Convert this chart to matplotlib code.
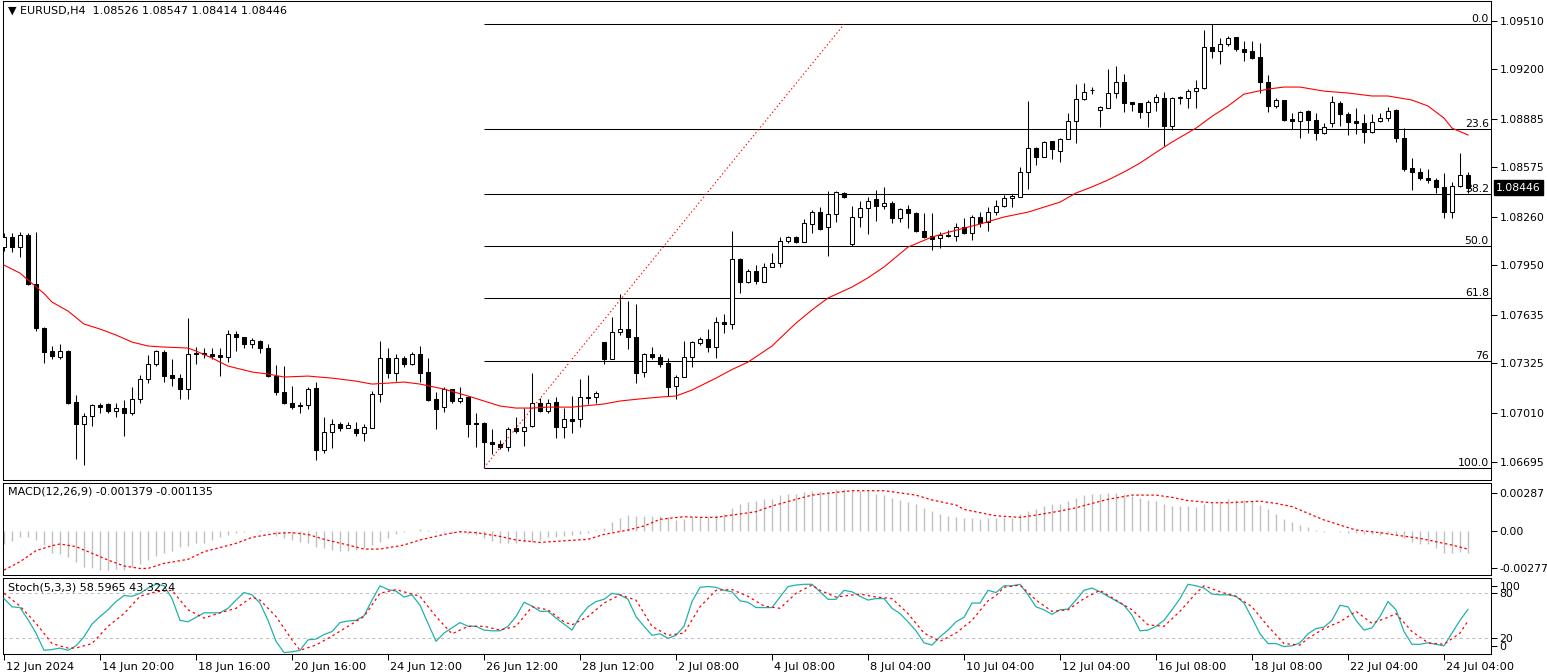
import numpy as np
import matplotlib
matplotlib.use('Agg')
import matplotlib.pyplot as plt
import matplotlib.transforms as mtransforms

plt.rcParams['font.family'] = ['DejaVu Sans']
plt.rcParams['font.size'] = 7.5

# ---------------------------------------------
# EURUSD H4 candles
# ---------------------------------------------
OPEN = [
    1.08066, 1.08130, 1.08066, 1.08143, 1.07830, 1.07549, 1.07403, 1.07364, 1.07403, 1.07077,
    1.06937, 1.06988, 1.07058, 1.07065, 1.07020, 1.07039, 1.07007, 1.07096, 1.07224, 1.07320,
    1.07396, 1.07250, 1.07230, 1.07160, 1.07390, 1.07388, 1.07383, 1.07377, 1.07364, 1.07511,
    1.07492, 1.07447, 1.07466, 1.07422, 1.07243, 1.07141, 1.07071, 1.07058, 1.07058, 1.07167,
    1.06771, 1.06886, 1.06937, 1.06911, 1.06905, 1.06879, 1.06911, 1.07128, 1.07358, 1.07262,
    1.07358, 1.07320, 1.07383, 1.07269, 1.07096, 1.07045, 1.07160, 1.07084, 1.07109, 1.06943,
    1.06943, 1.06822, 1.06809, 1.06790, 1.06911, 1.06892, 1.06924, 1.07071, 1.07020, 1.07077,
    1.06918, 1.06969, 1.06969, 1.07109, 1.07109, 1.07460, 1.07352, 1.07524, 1.07543, 1.07492,
    1.07269, 1.07383, 1.07364, 1.07326, 1.07179, 1.07237, 1.07364, 1.07454, 1.07479, 1.07428,
    1.07588, 1.07575, 1.07990, 1.07843, 1.07913, 1.07843, 1.07939, 1.07964, 1.08104, 1.08130,
    1.08098, 1.08213, 1.08289, 1.08194, 1.08277, 1.08411, 1.08085, 1.08258, 1.08315, 1.08372,
    1.08328, 1.08347, 1.08251, 1.08309, 1.08283, 1.08168, 1.08136, 1.08124, 1.08136, 1.08136,
    1.08194, 1.08155, 1.08258, 1.08226, 1.08289, 1.08328, 1.08379, 1.08385, 1.08545, 1.08698,
    1.08640, 1.08742, 1.08679, 1.08755, 1.08870, 1.09010, 1.09070, 1.08940, 1.08953, 1.09049,
    1.09119, 1.08991, 1.08985, 1.08927, 1.08991, 1.09017, 1.08838, 1.09017, 1.09017, 1.09061,
    1.09081, 1.09342, 1.09317, 1.09361, 1.09406, 1.09329, 1.09317, 1.09278, 1.09119, 1.08966,
    1.09004, 1.08883, 1.08870, 1.08934, 1.08876, 1.08793, 1.08857, 1.08985, 1.08915, 1.08870,
    1.08857, 1.08800, 1.08870, 1.08889, 1.08940, 1.08762, 1.08570, 1.08545, 1.08506, 1.08494,
    1.08449, 1.08289, 1.08455, 1.08526,
]
HIGH = [
    1.08155, 1.08155, 1.08162, 1.08155, 1.08162, 1.07556, 1.07435, 1.07447, 1.07409, 1.07122,
    1.07007, 1.07065, 1.07071, 1.07071, 1.07071, 1.07090, 1.07173, 1.07250, 1.07377, 1.07409,
    1.07409, 1.07352, 1.07256, 1.07613, 1.07428, 1.07422, 1.07422, 1.07422, 1.07537, 1.07530,
    1.07492, 1.07486, 1.07473, 1.07447, 1.07313, 1.07307, 1.07179, 1.07077, 1.07173, 1.07205,
    1.06981, 1.06969, 1.06950, 1.06950, 1.06950, 1.06937, 1.07147, 1.07466, 1.07422, 1.07383,
    1.07371, 1.07396, 1.07435, 1.07358, 1.07141, 1.07173, 1.07160, 1.07173, 1.07116, 1.07007,
    1.06950, 1.06905, 1.06835, 1.06918, 1.06981, 1.07039, 1.07262, 1.07103, 1.07096, 1.07109,
    1.07039, 1.07116, 1.07224, 1.07250, 1.07147, 1.07460, 1.07620, 1.07766, 1.07722, 1.07702,
    1.07390, 1.07428, 1.07383, 1.07358, 1.07250, 1.07466, 1.07466, 1.07492, 1.07543, 1.07620,
    1.07639, 1.08168, 1.07996, 1.07926, 1.07951, 1.07964, 1.08028, 1.08130, 1.08136, 1.08136,
    1.08245, 1.08302, 1.08321, 1.08423, 1.08423, 1.08417, 1.08328, 1.08360, 1.08385, 1.08430,
    1.08449, 1.08360, 1.08315, 1.08334, 1.08289, 1.08283, 1.08283, 1.08162, 1.08175, 1.08219,
    1.08251, 1.08270, 1.08289, 1.08321, 1.08366, 1.08398, 1.08404, 1.08577, 1.08998, 1.08704,
    1.08742, 1.08742, 1.08762, 1.08921, 1.09106, 1.09112, 1.09087, 1.08966, 1.09202, 1.09221,
    1.09170, 1.08991, 1.08985, 1.09004, 1.09042, 1.09055, 1.09023, 1.09030, 1.09074, 1.09132,
    1.09451, 1.09487, 1.09400, 1.09412, 1.09406, 1.09380, 1.09380, 1.09368, 1.09164, 1.09017,
    1.09004, 1.08921, 1.08934, 1.08940, 1.08921, 1.08857, 1.09030, 1.08998, 1.08927, 1.08953,
    1.08915, 1.08915, 1.08921, 1.08959, 1.08947, 1.08825, 1.08634, 1.08570, 1.08564, 1.08506,
    1.08538, 1.08481, 1.08666, 1.08547,
]
LOW = [
    1.08041, 1.08034, 1.08002, 1.07824, 1.07530, 1.07326, 1.07352, 1.07352, 1.07065, 1.06714,
    1.06675, 1.06924, 1.07007, 1.07007, 1.06981, 1.06860, 1.06994, 1.07071, 1.07198, 1.07307,
    1.07205, 1.07179, 1.07096, 1.07096, 1.07320, 1.07358, 1.07352, 1.07243, 1.07332, 1.07403,
    1.07422, 1.07422, 1.07390, 1.07237, 1.07122, 1.07065, 1.07033, 1.07007, 1.07033, 1.06707,
    1.06752, 1.06784, 1.06892, 1.06911, 1.06860, 1.06828, 1.06911, 1.07077, 1.07230, 1.07211,
    1.07300, 1.07313, 1.07205, 1.07084, 1.06905, 1.07013, 1.07071, 1.07071, 1.06854, 1.06790,
    1.06659, 1.06746, 1.06777, 1.06765, 1.06879, 1.06797, 1.06918, 1.07013, 1.07007, 1.06848,
    1.06848, 1.06879, 1.06918, 1.07065, 1.07071, 1.07320, 1.07352, 1.07505, 1.07415, 1.07198,
    1.07237, 1.07352, 1.07300, 1.07116, 1.07096, 1.07237, 1.07300, 1.07441, 1.07396, 1.07358,
    1.07518, 1.07543, 1.07773, 1.07836, 1.07830, 1.07843, 1.07939, 1.07939, 1.08092, 1.08092,
    1.08098, 1.08155, 1.08175, 1.08009, 1.08226, 1.08379, 1.08073, 1.08194, 1.08149, 1.08232,
    1.08309, 1.08219, 1.08226, 1.08187, 1.08162, 1.08124, 1.08047, 1.08060, 1.08130, 1.08104,
    1.08149, 1.08111, 1.08194, 1.08168, 1.08270, 1.08321, 1.08321, 1.08385, 1.08436, 1.08589,
    1.08640, 1.08628, 1.08608, 1.08755, 1.08730, 1.09004, 1.09042, 1.08832, 1.08953, 1.09017,
    1.08927, 1.08934, 1.08889, 1.08832, 1.08934, 1.08711, 1.08813, 1.08978, 1.08953, 1.08953,
    1.09074, 1.09272, 1.09234, 1.09349, 1.09317, 1.09253, 1.09266, 1.09049, 1.08927, 1.08953,
    1.08870, 1.08819, 1.08762, 1.08793, 1.08749, 1.08787, 1.08832, 1.08838, 1.08781, 1.08787,
    1.08730, 1.08793, 1.08864, 1.08870, 1.08736, 1.08551, 1.08430, 1.08494, 1.08474, 1.08411,
    1.08251, 1.08251, 1.08449, 1.08414,
]
CLOSE = [
    1.08130, 1.08066, 1.08143, 1.07830, 1.07549, 1.07396, 1.07371, 1.07403, 1.07071, 1.06937,
    1.06988, 1.07058, 1.07045, 1.07020, 1.07039, 1.07007, 1.07096, 1.07224, 1.07320, 1.07403,
    1.07243, 1.07230, 1.07160, 1.07383, 1.07383, 1.07383, 1.07371, 1.07364, 1.07511, 1.07492,
    1.07447, 1.07473, 1.07422, 1.07243, 1.07141, 1.07071, 1.07045, 1.07052, 1.07160, 1.06771,
    1.06886, 1.06937, 1.06911, 1.06931, 1.06879, 1.06918, 1.07128, 1.07358, 1.07262, 1.07358,
    1.07320, 1.07383, 1.07262, 1.07090, 1.07033, 1.07160, 1.07084, 1.07103, 1.06937, 1.06937,
    1.06822, 1.06809, 1.06790, 1.06905, 1.06892, 1.06918, 1.07071, 1.07020, 1.07071, 1.06918,
    1.06969, 1.06956, 1.07109, 1.07103, 1.07135, 1.07352, 1.07524, 1.07543, 1.07492, 1.07262,
    1.07383, 1.07364, 1.07320, 1.07173, 1.07237, 1.07364, 1.07460, 1.07479, 1.07428, 1.07588,
    1.07575, 1.07990, 1.07843, 1.07913, 1.07849, 1.07939, 1.07964, 1.08104, 1.08130, 1.08098,
    1.08219, 1.08289, 1.08181, 1.08277, 1.08417, 1.08385, 1.08258, 1.08315, 1.08360, 1.08328,
    1.08347, 1.08251, 1.08309, 1.08283, 1.08168, 1.08130, 1.08117, 1.08143, 1.08143, 1.08194,
    1.08155, 1.08258, 1.08219, 1.08289, 1.08328, 1.08379, 1.08392, 1.08545, 1.08698, 1.08640,
    1.08736, 1.08691, 1.08755, 1.08870, 1.09010, 1.09055, 1.09066, 1.08959, 1.09049, 1.09119,
    1.08985, 1.08978, 1.08927, 1.08991, 1.09023, 1.08838, 1.09017, 1.09023, 1.09061, 1.09081,
    1.09342, 1.09317, 1.09361, 1.09400, 1.09329, 1.09310, 1.09272, 1.09119, 1.08966, 1.09004,
    1.08876, 1.08870, 1.08927, 1.08876, 1.08793, 1.08832, 1.08991, 1.08915, 1.08864, 1.08857,
    1.08800, 1.08864, 1.08889, 1.08934, 1.08762, 1.08564, 1.08545, 1.08506, 1.08494, 1.08449,
    1.08289, 1.08455, 1.08526, 1.08446,
]

# moving average (red line), read at sample bars
MA_BARS = [0, 2, 3, 5, 6, 8, 10, 12, 14, 16, 18, 20, 23, 24, 26, 28, 31, 33, 35, 38, 41,
           44, 46, 48, 50, 52, 55, 58, 60, 62, 64, 66, 68, 71, 75, 77, 80, 82, 84, 86, 89, 91, 93,
           96, 99, 101, 103, 106, 108, 110, 113, 116, 118, 120, 122, 125, 128, 132, 134, 136, 138, 140, 142,
           144, 146, 149, 151, 153, 155, 158, 160, 162, 165, 168, 171, 173, 176, 178, 180, 181, 183]
MA_VALUES = [1.07951, 1.07900, 1.07856, 1.07770, 1.07715, 1.07658, 1.07575, 1.07543, 1.07505, 1.07460,
             1.07435, 1.07428, 1.07422, 1.07403, 1.07358, 1.07307, 1.07269, 1.07256, 1.07237, 1.07243,
             1.07230, 1.07211, 1.07192, 1.07198, 1.07205, 1.07192, 1.07160, 1.07116, 1.07084, 1.07052,
             1.07039, 1.07039, 1.07045, 1.07045, 1.07065, 1.07084, 1.07100, 1.07109, 1.07116, 1.07154,
             1.07230, 1.07285, 1.07332, 1.07435, 1.07581, 1.07665, 1.07741, 1.07811, 1.07870, 1.07939,
             1.08066, 1.08130, 1.08160, 1.08187, 1.08213, 1.08258, 1.08289, 1.08353, 1.08411, 1.08450,
             1.08494, 1.08545, 1.08602, 1.08670, 1.08736, 1.08825, 1.08900, 1.08966, 1.09042, 1.09074,
             1.09087, 1.09087, 1.09061, 1.09049, 1.09030, 1.09030, 1.09004, 1.08966, 1.08889, 1.08825,
             1.08781]

# Fibonacci retracement
FIB_START_BAR = 60
FIB_END_BAR = 105
FIB_LOW = 1.06659
FIB_HIGH = 1.09487
FIB_RATIOS = [0.0, 0.236, 0.382, 0.5, 0.618, 0.76, 1.0]
FIB_LABELS = ['0.0', '23.6', '38.2', '50.0', '61.8', '76', '100.0']

PRICE_TICKS = [1.09510, 1.09200, 1.08885, 1.08575, 1.08260,
               1.07950, 1.07635, 1.07325, 1.07010, 1.06695]

# MACD(12,26,9): main (histogram) per bar, signal at sample bars
MACD_MAIN = [
    -0.00084, -0.00062, -0.00041, -0.00041, -0.00057, -0.00088, -0.00135, -0.00144, -0.00164, -0.00191,
    -0.00226, -0.00232, -0.00242, -0.00242, -0.00238, -0.00242, -0.00226, -0.00205, -0.00180, -0.00156,
    -0.00135, -0.00125, -0.00098, -0.00092, -0.00078, -0.00074, -0.00057, -0.00041, -0.00027, -0.00016,
    -0.00006, -0.00001, 0.00004, -0.00006, -0.00033, -0.00047, -0.00057, -0.00068, -0.00078, -0.00098,
    -0.00109, -0.00119, -0.00123, -0.00123, -0.00119, -0.00109, -0.00088, -0.00068, -0.00047, -0.00021,
    -0.00010, -0.00004, 0.00008, 0.00004, -0.00006, -0.00010, -0.00016, -0.00016, -0.00023, -0.00029,
    -0.00045, -0.00065, -0.00078, -0.00078, -0.00078, -0.00068, -0.00068, -0.00057, -0.00037, -0.00037,
    -0.00033, -0.00027, -0.00023, -0.00012, 0.00004, 0.00018, 0.00053, 0.00080, 0.00096, 0.00092,
    0.00092, 0.00092, 0.00092, 0.00082, 0.00066, 0.00072, 0.00082, 0.00082, 0.00086, 0.00096,
    0.00103, 0.00137, 0.00162, 0.00176, 0.00185, 0.00193, 0.00197, 0.00217, 0.00226, 0.00226,
    0.00236, 0.00244, 0.00244, 0.00240, 0.00256, 0.00256, 0.00246, 0.00246, 0.00244, 0.00226,
    0.00219, 0.00199, 0.00189, 0.00178, 0.00162, 0.00137, 0.00123, 0.00103, 0.00090, 0.00082,
    0.00080, 0.00076, 0.00072, 0.00076, 0.00080, 0.00082, 0.00080, 0.00100, 0.00121, 0.00133,
    0.00152, 0.00162, 0.00164, 0.00182, 0.00199, 0.00219, 0.00226, 0.00226, 0.00230, 0.00234,
    0.00226, 0.00213, 0.00203, 0.00189, 0.00182, 0.00162, 0.00154, 0.00152, 0.00152, 0.00148,
    0.00164, 0.00168, 0.00185, 0.00195, 0.00189, 0.00189, 0.00182, 0.00158, 0.00131, 0.00103,
    0.00072, 0.00055, 0.00035, 0.00025, 0.00004, -0.00006, -0.00001, -0.00006, -0.00012, -0.00016,
    -0.00021, -0.00023, -0.00027, -0.00016, -0.00023, -0.00047, -0.00068, -0.00084, -0.00082, -0.00109,
    -0.00135, -0.00135, -0.00129, -0.001379,
]
MACD_SIG_BARS = [0, 2, 4, 6, 7, 9, 11, 13, 15, 17, 18, 20, 23, 25, 29, 31, 34, 36, 38, 40,
                 43, 45, 47, 50, 52, 55, 57, 59, 62, 64, 67, 70, 73, 75, 78, 80, 82, 85, 87, 89,
                 91, 94, 96, 99, 101, 104, 106, 110, 114, 116, 119, 120, 122, 124, 127, 129, 132, 134, 136, 138,
                 141, 144, 146, 148, 151, 153, 157, 159, 161, 163, 165, 167, 169, 172, 174, 177, 179, 181, 183]
MACD_SIG_VALUES = [-0.00242, -0.00191, -0.00123, -0.00092, -0.00082, -0.00098, -0.00139, -0.00180, -0.00217, -0.00232,
                   -0.00232, -0.00201, -0.00176, -0.00129, -0.00078, -0.00041, -0.00016, -0.00012, -0.00023, -0.00053,
                   -0.00088, -0.00113, -0.00113, -0.00088, -0.00057, -0.00023, -0.00006, -0.00012, -0.00035, -0.00057,
                   -0.00072, -0.00062, -0.00053, -0.00023, 0.00004, 0.00029, 0.00070, 0.00086, 0.00082, 0.00082,
                   0.00096, 0.00117, 0.00152, 0.00193, 0.00219, 0.00236, 0.00246, 0.00246, 0.00219, 0.00189,
                   0.00158, 0.00131, 0.00111, 0.00092, 0.00082, 0.00096, 0.00121, 0.00141, 0.00168, 0.00193,
                   0.00219, 0.00219, 0.00205, 0.00185, 0.00172, 0.00172, 0.00182, 0.00168, 0.00148, 0.00107,
                   0.00066, 0.00035, 0.00004, -0.00012, -0.00027, -0.00047, -0.00068, -0.00088, -0.001135]

# Stochastic(5,3,3): main per bar, signal at sample bars
STOCH_MAIN = [
    73, 62, 61, 45, 27, 4, 5, 7, 4, 10,
    22, 39, 49, 58, 69, 77, 76, 80, 87, 92,
    90, 73, 44, 42, 48, 54, 54, 54, 60, 71,
    81, 78, 67, 44, 16, 1, 2, 4, 18, 19,
    25, 29, 41, 43, 44, 50, 71, 90, 85, 83,
    75, 78, 64, 40, 16, 27, 34, 41, 36, 36,
    31, 30, 30, 36, 49, 68, 63, 56, 56, 47,
    39, 31, 49, 62, 69, 72, 80, 78, 72, 49,
    36, 24, 26, 20, 24, 36, 69, 88, 89, 88,
    84, 82, 70, 68, 61, 61, 61, 75, 89, 91,
    92, 92, 82, 72, 72, 84, 82, 76, 71, 73,
    73, 60, 53, 42, 30, 14, 11, 22, 31, 42,
    48, 67, 67, 84, 81, 90, 90, 92, 78, 62,
    58, 52, 58, 59, 71, 84, 87, 82, 76, 70,
    64, 51, 30, 31, 36, 44, 58, 73, 92, 90,
    87, 79, 78, 78, 76, 67, 47, 26, 13, 13,
    9, 10, 14, 26, 33, 35, 44, 64, 62, 44,
    31, 34, 49, 69, 58, 29, 12, 12, 14, 12,
    10, 27, 44, 58.5965,
]
STOCH_SIG_BARS = [0, 2, 4, 6, 8, 9, 11, 13, 15, 17, 19, 21, 23, 25, 27, 29, 31, 32, 34, 36,
                  37, 39, 41, 43, 45, 47, 49, 52, 54, 56, 58, 60, 62, 64, 66, 68, 70, 71, 73, 75,
                  77, 79, 81, 83, 85, 87, 89, 91, 93, 95, 97, 99, 101, 102, 104, 107, 109, 111, 113, 115,
                  117, 119, 121, 123, 124, 125, 127, 129, 131, 133, 135, 137, 139, 141, 143, 145, 147, 149, 150, 152,
                  154, 156, 158, 160, 162, 163, 165, 167, 169, 171, 173, 174, 176, 178, 180, 182, 183]
STOCH_SIG_VALUES = [80, 63, 40, 13, 7, 7, 13, 36, 53, 76, 82, 84, 58, 47, 54, 60, 75, 71, 49, 18,
                    4, 11, 23, 36, 49, 80, 85, 76, 49, 26, 36, 36, 31, 36, 62, 58, 42, 38, 49, 67,
                    78, 71, 36, 24, 27, 62, 84, 85, 76, 63, 60, 80, 91, 84, 75, 79, 75, 73, 53, 27,
                    16, 27, 44, 70, 77, 88, 91, 71, 56, 58, 73, 84, 71, 58, 38, 36, 56, 80, 90, 82,
                    76, 62, 36, 13, 11, 20, 33, 42, 56, 40, 48, 53, 29, 14, 12, 27, 43.3224]

DATE_BARS = list(range(0, 181, 12))
DATE_LABELS = ['12 Jun 2024', '14 Jun 20:00', '18 Jun 16:00', '20 Jun 16:00',
               '24 Jun 12:00', '26 Jun 12:00', '28 Jun 12:00', '2 Jul 08:00',
               '4 Jul 08:00', '8 Jul 04:00', '10 Jul 04:00', '12 Jul 04:00',
               '16 Jul 08:00', '18 Jul 08:00', '22 Jul 04:00', '24 Jul 04:00']

# ---------------------------------------------
# layout (pixel boxes of the MT4 window)
# ---------------------------------------------
W, H = 1547, 672
fig = plt.figure(figsize=(W / 100, H / 100), dpi=100)


def box(l, t, r, b):
    return [l / W, 1 - b / H, (r - l) / W, (b - t) / H]


ax_p = fig.add_axes(box(3, 1, 1491, 480))
ax_m = fig.add_axes(box(3, 483, 1491, 575))
ax_s = fig.add_axes(box(3, 578, 1491, 654))

XMIN, XMAX = -0.125, 185.875
LW = 0.75
FS = 7.8

for ax in (ax_p, ax_m, ax_s):
    ax.set_xlim(XMIN, XMAX)
    for sp in ax.spines.values():
        sp.set_linewidth(LW)
        sp.set_color('black')
    ax.yaxis.tick_right()
    ax.tick_params(axis='y', direction='out', length=4, width=LW, pad=2,
                   labelsize=FS, left=False, labelleft=False)
    ax.tick_params(axis='x', bottom=False, labelbottom=False)

# ---------------- price panel ----------------
x = np.arange(len(CLOSE))
o = np.array(OPEN)
h = np.array(HIGH)
l = np.array(LOW)
c = np.array(CLOSE)
up = c > o
down = ~up
lo = np.minimum(o, c)
ht = np.abs(c - o)

ax_p.vlines(x, l, h, color='black', lw=LW, zorder=2)
ax_p.bar(x[up], ht[up], bottom=lo[up], width=0.55, facecolor='white',
         edgecolor='black', linewidth=LW, zorder=3)
ax_p.bar(x[down], ht[down], bottom=lo[down], width=0.55, facecolor='black',
         edgecolor='black', linewidth=LW, zorder=3)

ax_p.plot(MA_BARS, MA_VALUES, color='red', lw=0.8, zorder=4)

# fibo levels
rng = FIB_HIGH - FIB_LOW
for r, lab in zip(FIB_RATIOS, FIB_LABELS):
    lvl = FIB_HIGH - r * rng
    ax_p.hlines(lvl, FIB_START_BAR, XMAX, color='black', lw=LW, zorder=1)
    ax_p.text(0.9985, lvl, lab, transform=ax_p.get_yaxis_transform(),
              ha='right', va='bottom', fontsize=FS, color='black', zorder=5)
ax_p.plot([FIB_START_BAR, FIB_END_BAR], [FIB_LOW, FIB_HIGH], color='red',
          lw=0.8, ls=(0, (1.2, 2.2)), zorder=4)

ax_p.set_ylim(1.06580, 1.09636)
ax_p.set_yticks(PRICE_TICKS)
ax_p.set_yticklabels([f'{v:.5f}' for v in PRICE_TICKS])

# current price box
ax_p.annotate(f'{CLOSE[-1]:.5f}', xy=(1.0, CLOSE[-1]),
              xycoords=ax_p.get_yaxis_transform(),
              xytext=(3.5, 0), textcoords='offset points', ha='left', va='center',
              color='white', fontsize=FS, annotation_clip=False,
              bbox=dict(boxstyle='square,pad=0.2', fc='black', ec='black'))

fig.text(8 / W, 1 - 11 / H,
         '\u25bc EURUSD,H4  1.08526 1.08547 1.08414 1.08446',
         ha='left', va='center', fontsize=8)

# ---------------- MACD panel ----------------
m_lo, m_hi = -0.002724, 0.002934
ax_m.set_ylim(m_lo, m_hi)
ax_m.vlines(x, 0, MACD_MAIN, color='#C0C0C0', lw=1.0, zorder=2)
ax_m.plot(MACD_SIG_BARS, MACD_SIG_VALUES, color='red', lw=0.9,
          ls=(0, (2, 2)), zorder=3)
macd_fracs = [0.8946, 0.4815, 0.0728]
ax_m.set_yticks([m_lo + f * (m_hi - m_lo) for f in macd_fracs])
ax_m.set_yticklabels(['0.00287', '0.00', '-0.002778'])
fig.text(8 / W, 1 - 492 / H, 'MACD(12,26,9) -0.001379 -0.001135',
         ha='left', va='center', fontsize=8)

# ---------------- Stochastic panel ----------------
ax_s.set_ylim(-0.9, 100.4)
for lvl in (80, 20):
    ax_s.axhline(lvl, color='#C0C0C0', lw=LW, ls=(0, (3, 3)), zorder=1)
ax_s.plot(x, STOCH_MAIN, color='#20B2AA', lw=0.9, zorder=3)
ax_s.plot(STOCH_SIG_BARS, STOCH_SIG_VALUES, color='red', lw=0.9,
          ls=(0, (2, 2.5)), zorder=3)
ax_s.set_yticks([90.2, 80, 20, 9.6])
ax_s.set_yticklabels(['100', '80', '20', '0'])
fig.text(8 / W, 1 - 587 / H, 'Stoch(5,3,3) 58.5965 43.3224',
         ha='left', va='center', fontsize=8)

ax_s.tick_params(axis='x', bottom=True, labelbottom=True, direction='out',
                 length=4, width=LW, pad=2, labelsize=8.2)
ax_s.set_xticks(DATE_BARS)
ax_s.set_xticklabels(DATE_LABELS, ha='left')
shift = mtransforms.ScaledTranslation(2 / 100, 0, fig.dpi_scale_trans)
for lab in ax_s.get_xticklabels():
    lab.set_transform(lab.get_transform() + shift)

fig.savefig('out.png', dpi=100)
